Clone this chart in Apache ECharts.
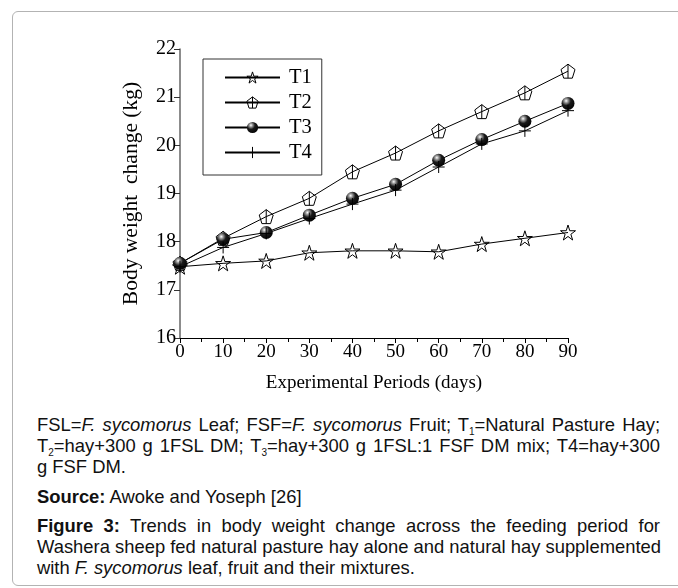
<!DOCTYPE html>
<html>
<head>
<meta charset="utf-8">
<script src="https://cdn.jsdelivr.net/npm/echarts@6/dist/echarts.min.js"></script>
<style>
  html, body { margin: 0; padding: 0; background: #fff; }
  #wrap { position: relative; width: 678px; height: 588px; overflow: hidden; }
  #frame { position: absolute; left: 12px; top: 11px; width: 720px; height: 573px;
           border: 1px solid #b3b3b3; border-radius: 6px; }
  #chart { position: absolute; left: 0; top: 0; width: 678px; height: 400px; }
  .cap { position: absolute; left: 37px; width: 623px; font-family: "Liberation Sans", Arial, sans-serif;
         font-size: 18.4px; line-height: 20.8px; color: #111; margin: 0; }
  .ln { white-space: nowrap; text-align: justify; text-align-last: justify; }
  .ln.end { text-align-last: left; }
  .cap sub { font-size: 10px; vertical-align: -4px; line-height: 0; }
</style>
</head>
<body>
<div id="wrap">
  <div id="frame"></div>
  <div id="chart"></div>
  <div class="cap" style="top:415px">
    <div class="ln">FSL=<i>F. sycomorus</i> Leaf; FSF=<i>F. sycomorus</i> Fruit; T<sub>1</sub>=Natural Pasture Hay;</div>
    <div class="ln">T<sub>2</sub>=hay+300 g 1FSL DM; T<sub>3</sub>=hay+300 g 1FSL:1 FSF DM mix; T4=hay+300</div>
    <div class="ln end">g FSF DM.</div>
  </div>
  <div class="cap" style="top:487px">
    <div class="ln end"><b>Source:</b> Awoke and Yoseph [26]</div>
  </div>
  <div class="cap" style="top:516px">
    <div class="ln"><b>Figure 3:</b> Trends in body weight change across the feeding period for</div>
    <div class="ln">Washera sheep fed natural pasture hay alone and natural hay supplemented</div>
    <div class="ln end">with <i>F. sycomorus</i> leaf, fruit and their mixtures.</div>
  </div>
</div>
<script>
// data
var days = [0, 10, 20, 30, 40, 50, 60, 70, 80, 90];
var t1 = [17.48, 17.55, 17.6, 17.77, 17.81, 17.81, 17.79, 17.95, 18.07, 18.19];
var t2 = [17.55, 18.07, 18.52, 18.9, 19.45, 19.84, 20.3, 20.7, 21.09, 21.54];
var t3 = [17.55, 18.05, 18.19, 18.55, 18.9, 19.19, 19.69, 20.12, 20.5, 20.87];
var t4 = [17.48, 17.88, 18.17, 18.48, 18.78, 19.07, 19.55, 20.03, 20.3, 20.72];
var seriesNames = ['T1', 'T2', 'T3', 'T4'];

var serif = '"Liberation Serif", "Times New Roman", serif';

function pairs(ys) {
  return days.map(function (d, i) { return [d, ys[i]]; });
}

var starPath = 'path://M0,-1L0.2245,-0.309L0.951,-0.309L0.3633,0.118L0.5878,0.809L0,0.382L-0.5878,0.809L-0.3633,0.118L-0.951,-0.309L-0.2245,-0.309Z';
var pentPath = 'path://M0,-1L0.951,-0.309L0.588,0.809L-0.588,0.809L-0.951,-0.309ZM0,-1L0,0.809';
var plusPath = 'path://M0,-1L0,1M-1,0L1,0';

var ball = {
  type: 'radial', x: 0.36, y: 0.3, r: 0.8,
  colorStops: [
    { offset: 0, color: '#ffffff' },
    { offset: 0.18, color: '#9a9a9a' },
    { offset: 0.45, color: '#1a1a1a' },
    { offset: 1, color: '#000' }
  ]
};

var hollow = { color: 'rgba(0,0,0,0)', borderColor: '#000', borderWidth: 1 };

var legendData = seriesNames.map(function (n) {
  return n === 'T3' ? { name: n } : { name: n, itemStyle: hollow };
});

var myChart = echarts.init(document.getElementById('chart'));
var option = {
  animation: false,
  grid: { left: 180, right: 110, top: 49, bottom: 62, containLabel: false },
  legend: {
    left: 203, top: 59,
    orient: 'vertical',
    data: legendData,
    itemWidth: 55, itemHeight: 14, itemGap: 4,
    padding: [8, 10, 12, 21],
    borderColor: '#333', borderWidth: 1,
    textStyle: { fontFamily: serif, fontSize: 20.5, color: '#000', padding: [0, 0, 0, 4] }
  },
  xAxis: {
    type: 'value', min: 0, max: 90, interval: 10,
    name: 'Experimental Periods (days)', nameLocation: 'middle', nameGap: 36,
    nameTextStyle: { fontFamily: serif, fontSize: 19, color: '#000' },
    axisLine: { show: true, lineStyle: { color: '#000', width: 1 } },
    axisTick: { show: true, inside: false, length: 5, lineStyle: { color: '#000' } },
    minorTick: { show: true, splitNumber: 2, length: 4, lineStyle: { color: '#000' } },
    axisLabel: { fontFamily: serif, fontSize: 19, color: '#000', margin: 5 },
    splitLine: { show: false }
  },
  yAxis: {
    type: 'value', min: 16, max: 22, interval: 1,
    name: 'Body weight  change (kg)', nameLocation: 'middle', nameGap: 38,
    nameTextStyle: { fontFamily: serif, fontSize: 21.5, color: '#000' },
    axisLine: { show: true, lineStyle: { color: '#666', width: 1.5 } },
    axisTick: { show: true, inside: false, length: 6, lineStyle: { color: '#333' } },
    axisLabel: { fontFamily: serif, fontSize: 20, color: '#000', margin: 4 },
    splitLine: { show: false }
  },
  series: [
    {
      name: 'T1', type: 'line', data: pairs(t1),
      symbol: starPath, symbolSize: 15,
      lineStyle: { color: '#000', width: 1 },
      itemStyle: hollow
    },
    {
      name: 'T2', type: 'line', data: pairs(t2),
      symbol: pentPath, symbolSize: 14,
      lineStyle: { color: '#000', width: 1 },
      itemStyle: hollow
    },
    {
      name: 'T3', type: 'line', data: pairs(t3),
      symbol: 'circle', symbolSize: 13,
      lineStyle: { color: '#000', width: 1 },
      itemStyle: { color: ball, borderWidth: 0 }
    },
    {
      name: 'T4', type: 'line', data: pairs(t4),
      symbol: plusPath, symbolSize: 12,
      lineStyle: { color: '#000', width: 1 },
      itemStyle: hollow
    }
  ]
};
myChart.setOption(option);
</script>
</body>
</html>
